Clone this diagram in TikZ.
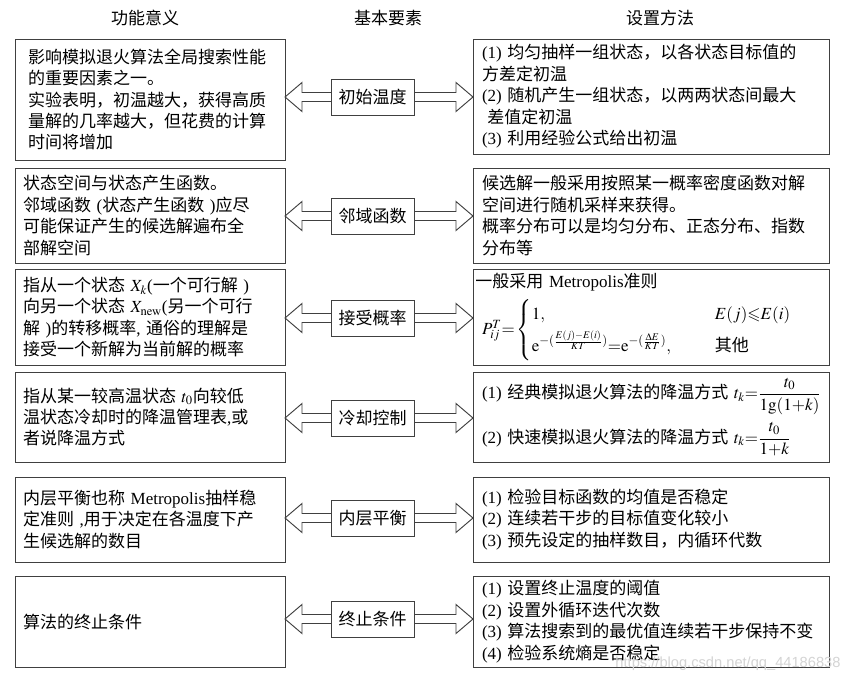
\documentclass[tikz,border=0pt]{standalone}
\usepackage{amsmath,amssymb}
\usepackage{mathptmx}
\usepackage{fontspec}
\setmainfont{Liberation Serif}
\newfontfamily\cjk{Noto Sans CJK SC}
\newfontfamily\wmfont{Liberation Sans}
\usetikzlibrary{calc}
\newcommand\en[1]{{\rmfamily #1}}
\newcommand\dblarr[3]{%
  \draw[arr] ($(#2.west)+(0,-4.5)$) -- ($(#1.east|-#2.west)+(17,-4.5)$) -- ($(#1.east|-#2.west)+(17,-14.5)$) -- (#1.east|-#2.west) -- ($(#1.east|-#2.west)+(17,14.5)$) -- ($(#1.east|-#2.west)+(17,4.5)$) -- ($(#2.west)+(0,4.5)$);
  \draw[arr] ($(#2.east)+(0,-4.5)$) -- ($(#3.west|-#2.east)+(-17,-4.5)$) -- ($(#3.west|-#2.east)+(-17,-14.5)$) -- (#3.west|-#2.east) -- ($(#3.west|-#2.east)+(-17,14.5)$) -- ($(#3.west|-#2.east)+(-17,4.5)$) -- ($(#2.east)+(0,4.5)$);
}
\begin{document}
\begin{tikzpicture}[x=0.75pt,y=-0.75pt,
  every node/.style={font=\cjk\fontsize{12.75pt}{16.1pt}\selectfont, text=black},
  boxbase/.style={draw=black!75, line width=0.7pt, inner ysep=0pt, outer sep=0pt},
  lbox/.style={boxbase, minimum width=202.5pt, inner xsep=6pt, text width=190.5pt, align=left},
  rbox/.style={boxbase, minimum width=267pt, inner xsep=6.75pt, text width=253.5pt, align=left},
  cbox/.style={boxbase, minimum width=62.25pt, minimum height=27pt, inner sep=0pt, align=center},
  hh/.style={minimum height={#1*0.75pt}},
  arr/.style={draw=black!75, line width=0.7pt, line join=miter},
  wmark/.style={text=black!17, font=\wmfont\fontsize{11pt}{11pt}\selectfont}
]
\path[fill=white] (0,0) rectangle (849,682);
\useasboundingbox (0,0) rectangle (849,682);

% headers
\node (h1) at (145,18) {功能意义};
\node (h2) at (388,18) {基本要素};
\node (h3) at (660,18) {设置方法};

% row 1
\node[lbox, hh=121, inner xsep=9.75pt, text width=183pt] (L1) at (150,99.5) {影响模拟退火算法全局搜索性能\\的重要因素之一。\\实验表明，初温越大，获得高质\\量解的几率越大，但花费的计算\\时间将增加};
\node[cbox] (C1) at (372.5,97) {初始温度};
\node[rbox, hh=115] (R1) at (651,96.5) {\en{(1)} 均匀抽样一组状态，以各状态目标值的\\方差定初温\\\en{(2)} 随机产生一组状态，以两两状态间最大\\\hspace*{4pt}差值定初温\\\en{(3)} 利用经验公式给出初温};

% row 2
\node[lbox, hh=95] (L2) at (150,215.5) {状态空间与状态产生函数。\\邻域函数 \en{(}状态产生函数 \en{)}应尽\\可能保证产生的候选解遍布全\\部解空间};
\node[cbox] (C2) at (372.5,216) {邻域函数};
\node[rbox, hh=95] (R2) at (651,215.5) {候选解一般采用按照某一概率密度函数对解\\空间进行随机采样来获得。\\概率分布可以是均匀分布、正态分布、指数\\分布等};

% row 3
\node[lbox, hh=96] (L3) at (150,317) {指从一个状态 $X_k$\en{(}一个可行解 \en{)}\\向另一个状态 $X_{\mathrm{new}}$\en{(}另一个可行\\解 \en{)}的转移概率\en{,} 通俗的理解是\\接受一个新解为当前解的概率};
\node[cbox] (C3) at (372.5,318) {接受概率};
\node[rbox, hh=96] (R3) at (651,317) {\hspace*{-5pt}一般采用 \en{Metropolis}准则\\[5pt]
\mbox{$P_{ij}^{T}{=}\begin{cases}1, & \hspace{20pt}E(j){\leqslant}E(i)\\[3pt] \mathrm{e}^{-(\frac{E(j)-E(i)}{KT})}{=}\mathrm{e}^{-(\frac{\Delta E}{KT})}, & \hspace{20pt}\text{其他}\end{cases}$}};

% row 4
\node[lbox, hh=90] (L4) at (150,417) {指从某一较高温状态 $t_0$向较低\\温状态冷却时的降温管理表\en{,}或\\者说降温方式};
\node[cbox] (C4) at (372.5,418) {冷却控制};
\node[rbox, hh=90] (R4) at (651,417) {\mbox{\en{(1)} 经典模拟退火算法的降温方式 $t_k{=}\dfrac{t_0}{1\mathrm{g}(1{+}k)}$}\\[5pt]\mbox{\en{(2)} 快速模拟退火算法的降温方式 $t_k{=}\dfrac{t_0}{1{+}k}$}};

% row 5
\node[lbox, hh=85] (L5) at (150,519.5) {内层平衡也称 \en{Metropolis}抽样稳\\定准则 \en{,}用于决定在各温度下产\\生候选解的数目};
\node[cbox] (C5) at (372.5,518) {内层平衡};
\node[rbox, hh=85] (R5) at (651,519.5) {\en{(1)} 检验目标函数的均值是否稳定\\\en{(2)} 连续若干步的目标值变化较小\\\en{(3)} 预先设定的抽样数目，内循环代数};

% row 6
\node[lbox, hh=91] (L6) at (150,621.5) {算法的终止条件};
\node[cbox] (C6) at (372.5,619) {终止条件};
\node[rbox, hh=91] (R6) at (651,621.5) {\en{(1)} 设置终止温度的阈值\\\en{(2)} 设置外循环迭代次数\\\en{(3)} 算法搜索到的最优值连续若干步保持不变\\\en{(4)} 检验系统熵是否稳定};

\dblarr{L1}{C1}{R1}
\dblarr{L2}{C2}{R2}
\dblarr{L3}{C3}{R3}
\dblarr{L4}{C4}{R4}
\dblarr{L5}{C5}{R5}
\dblarr{L6}{C6}{R6}

\node[wmark] (wm) at (728,664) {https://blog.csdn.net/qq\_44186838};
\end{tikzpicture}
\end{document}
